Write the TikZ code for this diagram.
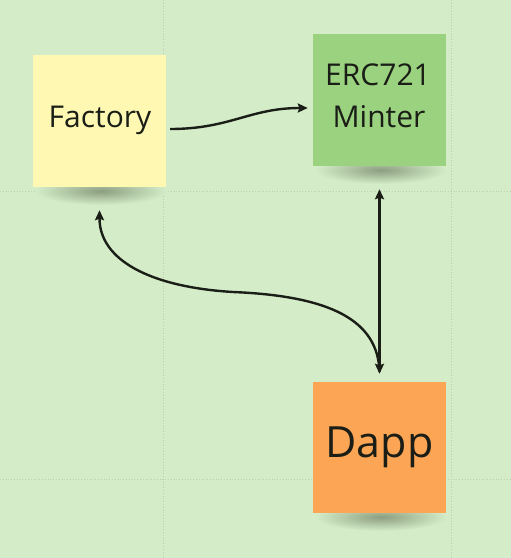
\documentclass[tikz,border=0pt]{standalone}
\usepackage{fontspec}
\setmainfont{Open Sans}
\usetikzlibrary{arrows.meta}
\definecolor{bgc}{RGB}{212,237,200}
\definecolor{gridc}{RGB}{188,206,178}
\definecolor{yel}{RGB}{255,248,178}
\definecolor{grn}{RGB}{155,210,128}
\definecolor{org}{RGB}{252,165,84}
\definecolor{ink}{RGB}{26,30,22}
\definecolor{shd}{RGB}{140,158,128}
\begin{document}
\begin{tikzpicture}[x=1pt,y=-1pt,
  note/.style={minimum width=133pt,minimum height=132pt,inner sep=0pt,draw=none},
  lbl/.style={text=ink,inner sep=0pt,font=\fontsize{30}{42}\selectfont},
  conn/.style={draw=ink,line width=2.4pt,-{Stealth[length=10pt,width=9pt,inset=1.5pt]}},
  gridline/.style={draw=gridc,line width=0.8pt,dotted}]
\fill[bgc] (0,0) rectangle (511,558);
\useasboundingbox (0,0) rectangle (511,558);
% grid
\draw[gridline] (163,0) -- (163,558);
\draw[gridline] (451,0) -- (451,558);
\draw[gridline] (0,191) -- (511,191);
\draw[gridline] (0,479) -- (511,479);
% shadows
\shade[inner color=shd,outer color=bgc] (101,191) ellipse (66pt and 14pt);
\shade[inner color=shd,outer color=bgc] (381,170) ellipse (66pt and 14pt);
\shade[inner color=shd,outer color=bgc] (381,517) ellipse (66pt and 14pt);
% notes
\node[note,fill=yel] (factory) at (99.5,121) {};
\node[note,fill=grn] (minter) at (379.5,100) {};
\node[note,fill=org,minimum height=131pt] (dapp) at (379.5,447.5) {};
% labels
\node[lbl,anchor=base] (factorytext) at (100,127) {Factory};
\node[lbl,anchor=base] (erctext) at (378,85) {ERC721};
\node[lbl,anchor=base] (mintertext) at (379,127) {Minter};
\node[lbl,anchor=base,font=\fontsize{43}{50}\selectfont] (dapptext) at (379.5,457) {Dapp};
% connectors
\draw[conn] ([shift={(4,8)}]factory.east) .. controls (230,129) and (250,108) .. ([shift={(-5,8)}]minter.west);
\draw[conn,{Stealth[length=10pt,width=9pt,inset=1.5pt]}-{Stealth[length=10pt,width=9pt,inset=1.5pt]}] ([shift={(0,23)}]minter.south) -- ([shift={(0,-8)}]dapp.north);
\draw[conn] ([shift={(0,-10)}]dapp.north) .. controls (378,320) and (330,296) .. (233,292) .. controls (150,287) and (99.5,260) .. ([shift={(0,23)}]factory.south);
\end{tikzpicture}
\end{document}
